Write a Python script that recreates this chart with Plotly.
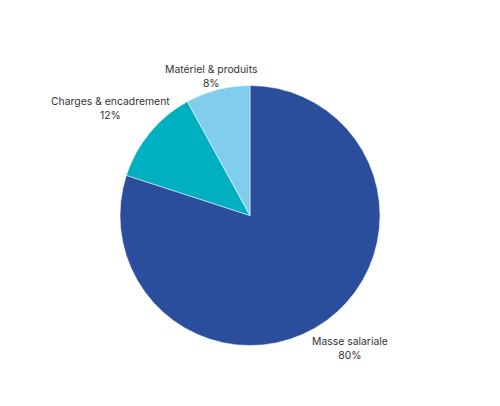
import plotly.graph_objects as go

labels = ["Masse salariale", "Charges & encadrement", "Matériel & produits"]
values = [80, 12, 8]
colors = ["#2B4E9C", "#00B0C1", "#80CEEC"]

# label anchor positions (paper coords), one per slice
label_x = [0.684, 0.204, 0.406]
label_y = [0.161, 0.7525, 0.832]

fig = go.Figure(go.Pie(
    labels=labels,
    values=values,
    sort=False,
    direction="clockwise",
    rotation=0,
    marker=dict(colors=colors, line=dict(color="white", width=0.5)),
    textinfo="none",
    showlegend=False,
    hoverinfo="label+percent",
    domain=dict(x=[0.224, 0.744], y=[0.1687, 0.8091]),
))

for lab, val, lx, ly in zip(labels, values, label_x, label_y):
    fig.add_annotation(
        x=lx, y=ly, xref="paper", yref="paper",
        text=f"{lab}<br>{val}%",
        showarrow=False, xanchor="center", yanchor="middle", align="center",
        font=dict(family="Inter", size=10.4, color="#333333"),
    )

fig.update_layout(
    width=500, height=406,
    margin=dict(l=0, r=0, t=0, b=0),
    paper_bgcolor="white",
    plot_bgcolor="white",
)

fig.write_html("out.html")
